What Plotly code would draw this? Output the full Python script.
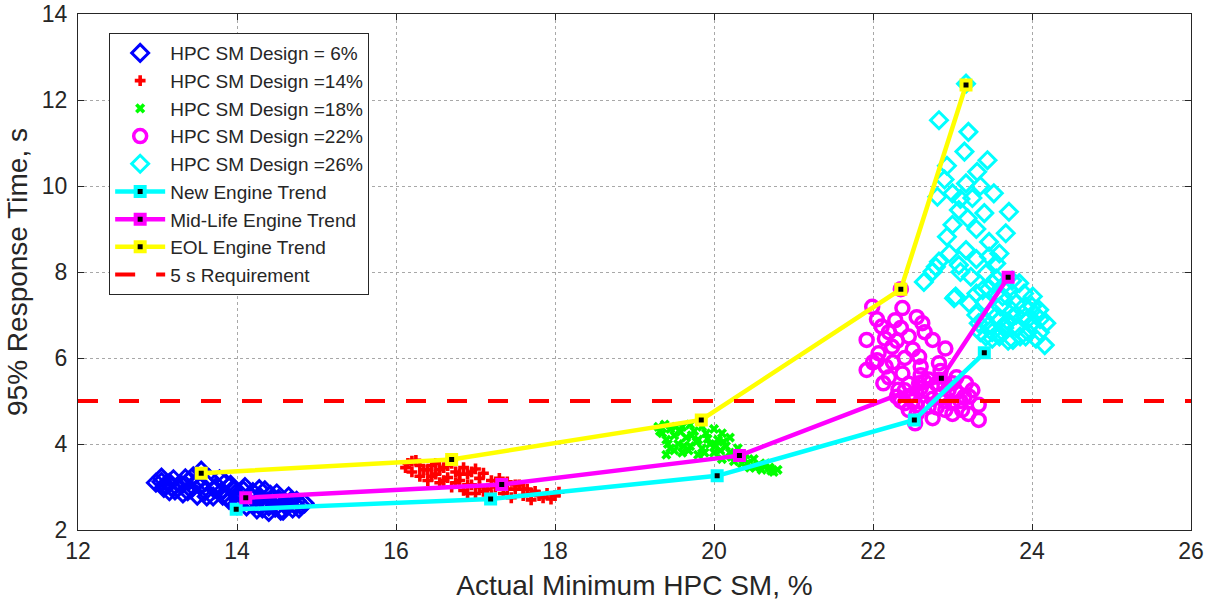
import plotly.graph_objects as go

# ---------------- data ----------------
blue_x = [12.98, 13.05, 13.08, 13.15, 13.20, 13.22, 13.30, 13.32, 13.40, 13.42, 13.50, 13.55,
          13.55, 13.60, 13.65, 13.70, 13.75, 13.80, 13.85, 13.90, 13.95, 14.00, 14.05, 14.10,
          14.15, 14.20, 14.25, 14.30, 14.35, 14.40, 14.45, 14.50, 14.55, 14.60, 14.65, 14.70,
          14.75, 14.80, 14.85, 14.40, 13.25, 13.45,
          13.10, 13.15, 13.35, 13.38, 13.48, 13.60, 13.62, 13.72, 13.78, 13.88, 13.92, 14.02,
          14.08, 14.18, 14.22, 14.28, 14.38, 14.42, 14.48, 14.52, 14.62, 14.68, 14.72, 14.78,
          14.58, 14.32, 14.12, 13.98, 13.82, 13.05, 13.18]
blue_y = [3.10, 3.22, 2.98, 3.10, 3.18, 2.92, 3.05, 2.85, 3.15, 2.95, 2.80, 3.38,
          3.05, 2.90, 3.20, 2.78, 3.02, 2.88, 3.10, 2.70, 2.95, 2.58, 2.82, 3.00,
          2.65, 2.88, 2.48, 2.75, 2.92, 2.55, 2.70, 2.85, 2.45, 2.62, 2.78, 2.50,
          2.68, 2.58, 2.62, 2.42, 2.98, 3.25,
          3.05, 2.90, 3.20, 2.90, 3.10, 3.12, 2.78, 2.95, 3.18, 2.78, 3.05, 2.70,
          2.92, 2.78, 2.60, 2.95, 2.65, 2.82, 2.52, 2.72, 2.55, 2.68, 2.60, 2.50,
          2.45, 2.50, 2.55, 2.85, 2.80, 3.12, 3.00]

red_x = [16.12, 16.20, 16.20, 16.30, 16.30, 16.40, 16.40, 16.50, 16.50, 16.55, 16.60, 16.65,
         16.70, 16.70, 16.75, 16.80, 16.85, 16.85, 16.90, 16.95, 17.00, 17.00, 17.05, 17.10,
         17.15, 17.20, 17.30, 17.35, 17.40, 17.50, 17.55, 17.60, 17.65, 17.70, 17.75, 17.80,
         17.90, 17.95, 18.05, 17.45, 16.25, 16.45,
         16.15, 16.35, 16.45, 16.55, 16.60, 16.65, 16.75, 16.80, 16.90, 16.95, 17.05, 17.10,
         17.25, 17.30, 17.40, 17.50, 17.60, 17.70, 17.85, 18.00, 17.20, 16.90]
red_y = [3.45, 3.60, 3.35, 3.50, 3.25, 3.40, 3.15, 3.55, 3.30, 3.10, 3.45, 3.22,
         3.55, 3.00, 3.35, 3.15, 2.92, 3.45, 3.30, 3.05, 3.42, 2.85, 3.20, 3.32,
         2.95, 3.15, 3.05, 2.85, 3.12, 2.95, 3.05, 2.80, 2.95, 2.70, 2.90, 2.80,
         2.85, 2.72, 2.88, 2.75, 3.62, 3.50,
         3.55, 3.40, 3.25, 3.40, 3.15, 3.50, 3.10, 3.30, 3.05, 3.35, 3.00, 2.90,
         3.00, 3.20, 2.95, 3.05, 2.95, 2.85, 2.75, 2.80, 2.80, 2.85]

green_x = [19.30, 19.35, 19.40, 19.45, 19.45, 19.50, 19.55, 19.60, 19.60, 19.65, 19.70, 19.75,
           19.80, 19.80, 19.85, 19.90, 19.95, 20.00, 20.00, 20.05, 20.10, 20.15, 20.20, 20.25,
           20.30, 20.35, 20.40, 20.45, 20.50, 20.55, 20.60, 20.65, 20.70, 20.75, 20.80, 19.70,
           19.50, 20.20,
           19.32, 19.38, 19.42, 19.52, 19.58, 19.62, 19.68, 19.72, 19.78, 19.88, 19.92, 20.02,
           20.08, 20.12, 20.22, 20.28, 20.38, 20.42, 20.52, 20.62, 20.72, 19.40, 20.10, 19.85]
green_y = [4.40, 4.25, 4.10, 3.90, 4.35, 4.20, 4.00, 3.80, 4.40, 4.15, 3.95, 4.30,
           3.75, 4.10, 3.90, 4.25, 4.00, 3.80, 4.35, 4.10, 3.65, 3.95, 3.80, 3.60,
           3.90, 3.55, 3.75, 3.45, 3.65, 3.50, 3.40, 3.55, 3.45, 3.35, 3.40, 4.45,
           3.85, 4.15,
           4.30, 4.45, 4.00, 4.40, 4.28, 3.95, 3.85, 4.20, 4.05, 3.80, 4.12, 3.95,
           3.85, 4.05, 3.70, 3.75, 3.65, 3.55, 3.45, 3.50, 3.38, 3.75, 4.25, 4.40]

magenta_x = [21.99, 22.35, 22.37, 22.28, 22.62, 22.11, 21.92, 22.45, 22.75, 22.91, 22.24, 22.07,
             22.58, 22.83, 21.92, 22.16, 22.37, 22.13, 22.32, 22.58, 23.00, 23.17, 23.21, 23.33,
             23.33, 23.12, 22.91, 22.70, 22.45, 22.53, 22.70, 22.90, 22.60, 22.80, 23.05, 22.50,
             22.40, 22.35,
             22.05, 22.20, 22.30, 22.50, 22.65, 22.40, 22.25, 22.00, 22.45, 22.60, 22.70, 22.85,
             22.55, 22.75, 23.00, 23.20, 23.25, 23.10, 22.95, 22.20, 22.05, 22.30, 22.50, 22.65,
             22.80, 23.05, 22.15, 22.55, 22.35,
             22.45, 22.60, 22.75, 22.90, 22.55, 22.85, 22.65, 22.40, 23.15, 23.00]
magenta_y = [7.19, 7.60, 7.16, 6.88, 6.81, 6.73, 6.42, 6.50, 6.42, 6.22, 6.26, 6.11,
             6.03, 5.88, 5.72, 5.80, 5.64, 5.41, 5.26, 5.41, 5.41, 5.41, 5.10, 4.91,
             4.56, 4.79, 4.79, 4.87, 4.79, 4.48, 5.20, 5.00, 5.60, 5.40, 5.20, 5.00,
             4.95, 5.00,
             6.90, 6.60, 6.40, 6.20, 6.60, 6.00, 5.90, 5.90, 5.40, 5.80, 5.50, 5.70,
             4.70, 4.60, 4.70, 4.70, 5.25, 5.00, 5.25, 5.55, 5.95, 5.10, 5.15, 4.95,
             4.85, 5.55, 6.45, 6.95, 6.70,
             5.10, 5.30, 5.05, 5.35, 4.90, 5.15, 5.45, 5.25, 5.10, 4.95]

cyan_x = [22.83, 23.20, 23.15, 23.44, 22.93, 23.31, 23.17, 23.00, 22.81, 23.52, 23.25, 23.08,
          23.40, 23.19, 23.71, 22.93, 23.67, 23.46, 23.59, 23.17, 22.96, 22.83, 23.46, 23.08,
          22.75, 22.64, 23.23, 23.42, 23.04, 23.21, 23.38, 23.84, 24.01, 24.18, 24.16, 23.92,
          23.76, 23.59, 23.42, 23.33, 23.54, 23.76, 23.92, 23.63, 23.80, 24.09, 23.50, 23.60,
          23.70, 23.90, 23.50, 23.80, 24.00, 23.65, 23.45, 23.55, 23.75, 23.17, 22.79, 23.02,
          23.30, 23.40, 23.50, 23.60, 23.70, 23.80, 23.85, 23.95, 24.05, 24.10, 23.65, 23.55,
          23.75, 23.90, 24.00, 23.35, 23.45, 23.70, 23.60, 23.40, 23.95, 23.50, 24.10, 24.05,
          23.30, 23.10, 23.30, 23.55, 23.00, 23.30, 23.10, 23.35, 22.90]
cyan_y = [11.53, 11.26, 10.80, 10.60, 10.47, 10.33, 10.06, 9.83, 9.75, 9.83, 9.72, 9.44,
          9.37, 9.25, 9.40, 8.82, 8.90, 8.70, 8.43, 8.51, 8.43, 8.24, 8.36, 8.16,
          8.01, 7.77, 7.89, 7.97, 7.43, 7.27, 7.58, 7.74, 7.43, 6.81, 6.30, 6.50,
          6.42, 6.50, 6.50, 6.81, 6.96, 6.96, 6.96, 7.43, 7.27, 7.12, 7.74, 7.20,
          7.60, 7.20, 7.10, 6.70, 6.80, 6.70, 6.75, 7.50, 7.10, 12.38, 8.12, 7.39,
          7.00, 7.30, 6.60, 6.90, 6.40, 7.00, 6.50, 6.90, 7.00, 6.60, 7.70, 7.85,
          7.80, 7.50, 7.20, 6.60, 7.60, 6.85, 6.55, 6.90, 6.60, 6.45, 6.90, 6.45,
          7.50, 8.00, 8.30, 8.20, 9.10, 9.00, 9.70, 10.00, 10.15]

new_x = [13.99, 17.19, 20.04, 22.52, 23.40]
new_y = [2.48, 2.72, 3.26, 4.56, 6.12]
mid_x = [14.11, 17.33, 20.32, 22.86, 23.70]
mid_y = [2.75, 3.06, 3.73, 5.53, 7.88]
eol_x = [13.55, 16.70, 19.84, 22.35, 23.17]
eol_y = [3.32, 3.64, 4.56, 7.60, 12.35]

req_x = [12, 26]
req_y = [5, 5]

x_ticks = [12, 14, 16, 18, 20, 22, 24, 26]
y_ticks = [2, 4, 6, 8, 10, 12, 14]

FONT = "Liberation Sans, Arial, Helvetica, sans-serif"
AX = "#262626"

fig = go.Figure()

def scat(x, y, name, symbol, color, size, lw):
    fig.add_trace(go.Scatter(
        x=x, y=y, mode="markers", name=name,
        marker=dict(symbol=symbol, color=color, size=size,
                    line=dict(color=color, width=lw)),
    ))

scat(blue_x, blue_y, "HPC SM Design = 6%", "diamond-open", "#0000ff", 13, 3)
scat(red_x, red_y, "HPC SM Design =14%", "cross", "#ff0000", 9, 0)
scat(green_x, green_y, "HPC SM Design =18%", "x", "#00ff00", 9, 0)
scat(magenta_x, magenta_y, "HPC SM Design =22%", "circle-open", "#ff00ff", 13, 3.5)
scat(cyan_x, cyan_y, "HPC SM Design =26%", "diamond-open", "#00ffff", 13, 3)

def trend(x, y, name, color):
    fig.add_trace(go.Scatter(
        x=x, y=y, mode="lines+markers", name=name,
        line=dict(color=color, width=4.5),
        marker=dict(symbol="square", color="black", size=9,
                    line=dict(color=color, width=4)),
    ))

trend(new_x, new_y, "New Engine Trend", "#00ffff")
trend(mid_x, mid_y, "Mid-Life Engine Trend", "#ff00ff")
trend(eol_x, eol_y, "EOL Engine Trend", "#ffff00")

fig.add_trace(go.Scatter(
    x=req_x, y=req_y, mode="lines", name="5 s Requirement",
    line=dict(color="#ff0000", width=4, dash="20px,21px"),
))

axis_common = dict(
    showline=True, linecolor=AX, linewidth=1, mirror="ticks",
    ticks="inside", ticklen=6, tickcolor=AX, tickwidth=1,
    showgrid=True, gridcolor="#a8a8a8", griddash="dot", gridwidth=1,
    zeroline=False, automargin=False, ticklabeloverflow="allow",
    tickfont=dict(family=FONT, size=23, color=AX),
)

fig.update_layout(
    width=1211, height=605, autosize=False,
    margin=dict(l=78, r=20, t=14, b=75),
    plot_bgcolor="white", paper_bgcolor="white",
    font=dict(family=FONT, color=AX),
    xaxis=dict(range=[12, 26], tickvals=x_ticks, ticklabelstandoff=0,
               title=dict(text="Actual Minimum HPC SM, %", font=dict(size=28, color=AX), standoff=12),
               **axis_common),
    yaxis=dict(range=[2, 14], tickvals=y_ticks, ticklabelstandoff=5,
               title=dict(text="95% Response Time, s", font=dict(size=28, color=AX), standoff=6),
               **axis_common),
    legend=dict(x=0.028, y=0.963, xanchor="left", yanchor="top",
                bgcolor="white", bordercolor=AX, borderwidth=1,
                font=dict(family=FONT, size=19, color=AX),
                itemwidth=50),
    showlegend=True,
)

# remove the browser's default 8 px body margin so the figure sits at (0, 0)
fig.write_html("out.html", config={"displayModeBar": False},
               post_script="document.body.style.margin='0px';")
